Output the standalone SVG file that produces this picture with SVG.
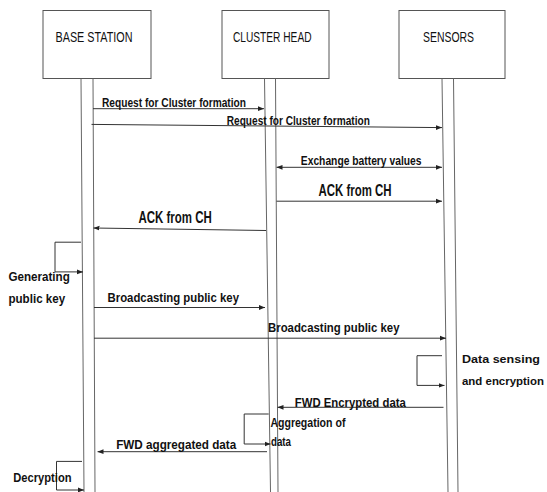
<svg xmlns="http://www.w3.org/2000/svg" width="547" height="492" viewBox="0 0 547 492">
<defs>
<style>
.box{fill:#fff;stroke:#555;stroke-width:1}
.life{stroke:#666;stroke-width:1;fill:none}
.msg{stroke:#333;stroke-width:1;fill:none}
.hdr{font-family:"Liberation Sans",Arial,sans-serif;font-size:15px;fill:#111}
.lbl{font-family:"Liberation Sans",Arial,sans-serif;font-size:13px;font-weight:bold;fill:#111}
.sml{font-family:"Liberation Sans",Arial,sans-serif;font-size:11.5px;font-weight:bold;fill:#111}
.big{font-family:"Liberation Sans",Arial,sans-serif;font-size:16px;font-weight:bold;fill:#111}
</style>
<marker id="ah" viewBox="0 0 10 10" refX="10" refY="5" markerWidth="6" markerHeight="6" orient="auto-start-reverse" markerUnits="userSpaceOnUse">
<path d="M0,1 L10,5 L0,9 Z" fill="#222"/>
</marker>
</defs>
<rect width="547" height="492" fill="#fff"/>
<g id="base-station">
<rect class="box" x="43" y="10.5" width="108" height="68"/>
<text class="hdr" x="55.5" y="42" textLength="77" lengthAdjust="spacingAndGlyphs">BASE STATION</text>
<line class="life" x1="81" y1="78.5" x2="84" y2="492"/>
<line class="life" x1="93" y1="78.5" x2="95" y2="492"/>
</g>
<g id="cluster-head">
<rect class="box" x="222" y="10.5" width="107" height="68"/>
<text class="hdr" x="233" y="42" textLength="78.5" lengthAdjust="spacingAndGlyphs">CLUSTER HEAD</text>
<line class="life" x1="264.5" y1="78.5" x2="270.5" y2="492"/>
<line class="life" x1="275.5" y1="78.5" x2="278" y2="492"/>
</g>
<g id="sensors">
<rect class="box" x="399" y="10.5" width="106" height="68"/>
<text class="hdr" x="423" y="41.5" textLength="51" lengthAdjust="spacingAndGlyphs">SENSORS</text>
<line class="life" x1="442" y1="78.5" x2="448" y2="492"/>
<line class="life" x1="453.5" y1="78.5" x2="458" y2="492"/>
</g>
<g id="connectors">
<line class="msg" x1="93" y1="108.7" x2="264" y2="108.7" marker-end="url(#ah)"/>
<line class="msg" x1="91.5" y1="124.4" x2="442" y2="127.6" marker-end="url(#ah)"/>
<line class="msg" x1="276.5" y1="167.3" x2="442" y2="167.3" marker-start="url(#ah)" marker-end="url(#ah)"/>
<line class="msg" x1="276.5" y1="201.2" x2="442" y2="201.2" marker-end="url(#ah)"/>
<line class="msg" x1="266" y1="230.5" x2="93.5" y2="228" marker-end="url(#ah)"/>
<polyline class="msg" points="81,242.2 55,242.2 55,271.9 83,271.9" marker-end="url(#ah)"/>
<line class="msg" x1="94" y1="307.5" x2="265" y2="307.5" marker-end="url(#ah)"/>
<line class="msg" x1="94" y1="338.2" x2="446" y2="338.2" marker-end="url(#ah)"/>
<polyline class="msg" points="442,355.7 417,355.7 417,385.4 444.5,385.4" marker-end="url(#ah)"/>
<line class="msg" x1="443.5" y1="407.3" x2="277.5" y2="407.3" marker-end="url(#ah)"/>
<polyline class="msg" points="268.7,414 244.2,414 244.2,444 270.5,444" marker-end="url(#ah)"/>
<line class="msg" x1="267" y1="451.7" x2="97.5" y2="451.7" marker-end="url(#ah)"/>
<polyline class="msg" points="82,461.4 56.5,461.4 56.5,490 84,490" marker-end="url(#ah)"/>
</g>
<g id="labels">
<text class="lbl" x="102" y="107" textLength="144" lengthAdjust="spacingAndGlyphs">Request for Cluster formation</text>
<text class="lbl" x="226.8" y="124.5" textLength="143" lengthAdjust="spacingAndGlyphs">Request for Cluster formation</text>
<text class="lbl" x="300.8" y="164.6" textLength="120.7" lengthAdjust="spacingAndGlyphs">Exchange battery values</text>
<text class="big" x="318.6" y="196.2" textLength="73" lengthAdjust="spacingAndGlyphs">ACK from CH</text>
<text class="big" x="138.5" y="223.4" textLength="73.3" lengthAdjust="spacingAndGlyphs">ACK from CH</text>
<text class="lbl" x="8.4" y="281" textLength="61.4" lengthAdjust="spacingAndGlyphs">Generating</text>
<text class="lbl" x="8.4" y="302.6" textLength="56.8" lengthAdjust="spacingAndGlyphs">public key</text>
<text class="lbl" x="107.5" y="302" textLength="131.5" lengthAdjust="spacingAndGlyphs">Broadcasting public key</text>
<text class="lbl" x="268" y="332.4" textLength="131.5" lengthAdjust="spacingAndGlyphs">Broadcasting public key</text>
<text class="sml" x="462" y="363.4" textLength="78" lengthAdjust="spacingAndGlyphs">Data sensing</text>
<text class="sml" x="462" y="385" textLength="82" lengthAdjust="spacingAndGlyphs">and encryption</text>
<text class="lbl" x="294.8" y="406.7" textLength="111" lengthAdjust="spacingAndGlyphs">FWD Encrypted data</text>
<text class="lbl" x="270.4" y="426.6" textLength="75" lengthAdjust="spacingAndGlyphs">Aggregation of</text>
<text class="lbl" x="271" y="445.8" textLength="20" lengthAdjust="spacingAndGlyphs">data</text>
<text class="lbl" x="116.2" y="449.3" textLength="120" lengthAdjust="spacingAndGlyphs">FWD aggregated data</text>
<text class="lbl" x="13.3" y="481.6" textLength="58.2" lengthAdjust="spacingAndGlyphs">Decryption</text>
</g>
</svg>
